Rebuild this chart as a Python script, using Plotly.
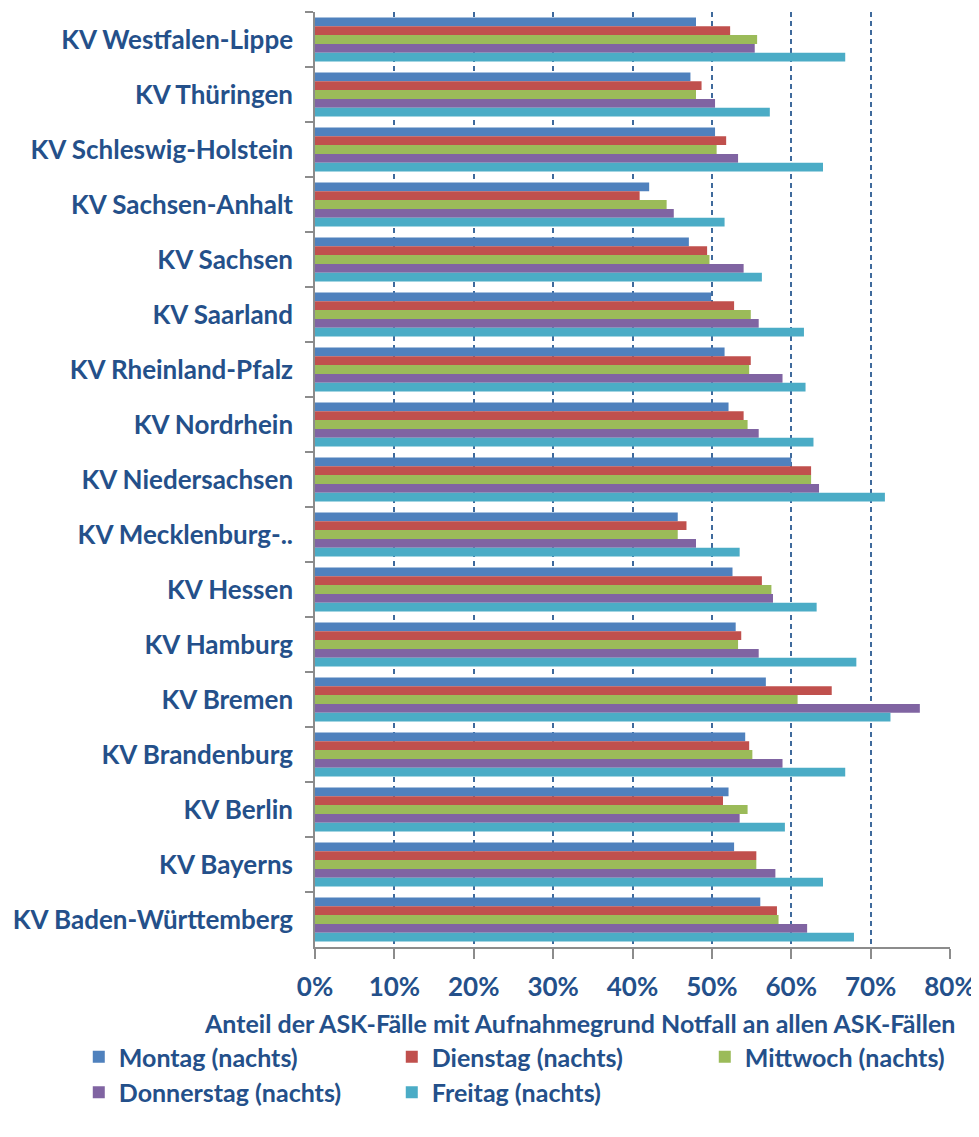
import plotly.graph_objects as go

categories = [
    "KV Westfalen-Lippe", "KV Thüringen", "KV Schleswig-Holstein", "KV Sachsen-Anhalt",
    "KV Sachsen", "KV Saarland", "KV Rheinland-Pfalz", "KV Nordrhein", "KV Niedersachsen",
    "KV Mecklenburg-..", "KV Hessen", "KV Hamburg", "KV Bremen", "KV Brandenburg",
    "KV Berlin", "KV Bayerns", "KV Baden-Württemberg",
]

montag = [48.0, 47.3, 50.4, 42.1, 47.1, 49.9, 51.6, 52.1, 60.0, 45.7, 52.6, 53.0, 56.8, 54.2, 52.1, 52.8, 56.1]
dienstag = [52.3, 48.7, 51.8, 40.9, 49.4, 52.8, 54.9, 54.0, 62.5, 46.8, 56.3, 53.7, 65.1, 54.7, 51.4, 55.6, 58.2]
mittwoch = [55.7, 48.0, 50.6, 44.3, 49.7, 54.9, 54.7, 54.5, 62.5, 45.7, 57.5, 53.3, 60.8, 55.1, 54.5, 55.6, 58.4]
donnerstag = [55.4, 50.4, 53.3, 45.2, 54.0, 55.9, 58.9, 55.9, 63.5, 48.0, 57.7, 55.9, 76.2, 58.9, 53.5, 58.0, 62.0]
freitag = [66.8, 57.3, 64.0, 51.6, 56.3, 61.6, 61.8, 62.8, 71.8, 53.5, 63.2, 68.2, 72.5, 66.8, 59.2, 64.0, 67.9]

series_names = ["Montag (nachts)", "Dienstag (nachts)", "Mittwoch (nachts)",
                "Donnerstag (nachts)", "Freitag (nachts)"]
series_values = [montag, dienstag, mittwoch, donnerstag, freitag]
colors = ["#4F81BD", "#C0504D", "#9BBB59", "#8064A2", "#4BACC6"]

tick_vals = [0, 10, 20, 30, 40, 50, 60, 70, 80]
tick_text = ["0%", "10%", "20%", "30%", "40%", "50%", "60%", "70%", "80%"]
x_title = "Anteil der ASK-Fälle mit Aufnahmegrund Notfall an allen ASK-Fällen"

FONT = "Lato"
TXT = "#24508A"
FS = 26
FS_SMALL = 25

# page body has an 8px margin, so the figure is drawn 8px in from the top-left
W, H = 971, 1129
L, R, T, B = 307, 29, 4, 190
PH = H - T - B

def py(screen_y):
    """paper y for a given screenshot y"""
    fig_y = screen_y - 8
    return (H - B - fig_y) / PH

fig = go.Figure()
for name, vals, col in zip(series_names, series_values, colors):
    fig.add_trace(go.Bar(
        y=categories, x=vals, name=name, orientation="h",
        marker=dict(color=col, line=dict(width=0)),
    ))

fig.update_layout(
    width=W, height=H,
    margin=dict(l=L, r=R, t=T, b=B, autoexpand=False),
    plot_bgcolor="white", paper_bgcolor="white",
    barmode="group", bargap=0.2, bargroupgap=0,
    font=dict(family=FONT, color=TXT, size=FS),
    showlegend=True,
    legend=dict(
        orientation="h", x=-0.372, xanchor="left", y=py(1034), yanchor="top",
        entrywidth=268, entrywidthmode="pixels",
        font=dict(family=FONT, size=FS_SMALL, color=TXT, weight="bold"),
        tracegroupgap=0, itemwidth=30,
    ),
    xaxis=dict(
        range=[0, 80], tickvals=tick_vals, ticktext=tick_text, automargin=False,
        showgrid=True, gridcolor="#3F6A9C", gridwidth=2, griddash="5px,4px",
        zeroline=False, showline=True, linecolor="#8C8C8C", linewidth=1.5,
        ticks="outside", ticklen=10, tickcolor="#8C8C8C", tickwidth=1.5,
        tickfont=dict(family=FONT, size=FS, color=TXT, weight="bold"),
        ticklabelstandoff=6,
    ),
    yaxis=dict(
        autorange="reversed", type="category", automargin=False,
        showgrid=False, zeroline=False,
        showline=True, linecolor="#8C8C8C", linewidth=1.5,
        ticks="outside", ticklen=8, tickcolor="#8C8C8C", tickwidth=1.5,
        tickson="boundaries",
        tickfont=dict(family=FONT, size=FS, color=TXT, weight="bold"),
        ticklabelstandoff=15,
    ),
    annotations=[dict(
        text=x_title, xref="paper", yref="paper", x=0.416, y=py(1023),
        xanchor="center", yanchor="middle", showarrow=False,
        font=dict(family=FONT, size=FS_SMALL, color=TXT, weight="bold"),
    )],
)

fig.write_html("out.html")
